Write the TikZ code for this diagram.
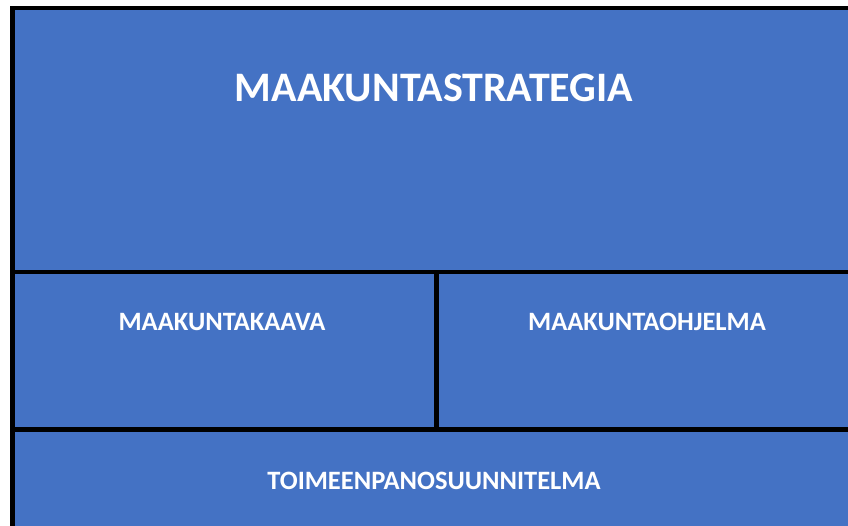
\documentclass[tikz,border=0pt]{standalone}
\usepackage{fontspec}
\setmainfont{Carlito}
\usetikzlibrary{positioning}

\definecolor{panelblue}{HTML}{4472C4}

\begin{document}
\begin{tikzpicture}[
    x=1pt, y=-1pt,
    panel/.style={rectangle, draw=black, line width=4.5pt, fill=panelblue, inner sep=0pt, anchor=north west},
    bigtitle/.style={text=white, font=\fontsize{42}{50}\selectfont\bfseries, inner sep=0pt},
    subtitle/.style={text=white, font=\fontsize{26.5}{32}\selectfont\bfseries, inner sep=0pt}
]
\useasboundingbox (0,0) rectangle (848,526);
\clip (0,0) rectangle (848,526);

% --- Boxes ---
\node[panel, minimum width=850pt, minimum height=264pt] (strategia) at (10,6) {};
\node[panel, minimum width=424pt, minimum height=157pt] (kaava) at (10,270) {};
\node[panel, minimum width=426pt, minimum height=157pt] (ohjelma) at (434,270) {};
\node[panel, minimum width=850pt, minimum height=110pt] (toimeenpano) at (10,427) {};

% --- Texts ---
\node[bigtitle] (strategiatext) at (434,88) {MAAKUNTASTRATEGIA};
\node[subtitle] (kaavatext) at (222,322) {MAAKUNTAKAAVA};
\node[subtitle] (ohjelmatext) at (647,322) {MAAKUNTAOHJELMA};
\node[subtitle] (toimeenpanotext) at (434,481) {TOIMEENPANOSUUNNITELMA};

\end{tikzpicture}
\end{document}
